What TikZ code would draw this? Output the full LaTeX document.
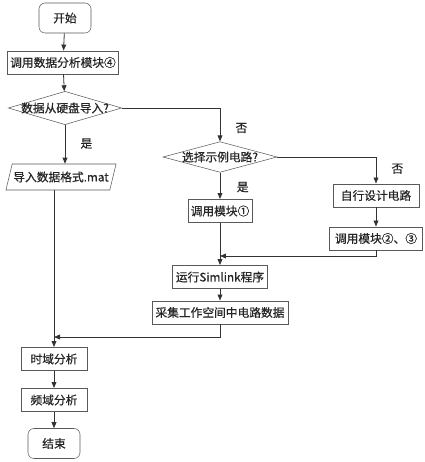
\documentclass[tikz,border=0pt]{standalone}
\usepackage{fontspec}
\setmainfont{Noto Sans CJK SC}[FakeBold=0.6]
\usepackage{xcolor}
\usetikzlibrary{arrows.meta,positioning,shapes.geometric,calc}

\begin{document}
\begin{tikzpicture}[x=0.75pt, y=-0.75pt,
        every node/.style={font=\fontsize{8.8}{10}\selectfont, text=black!85},
        term/.style={draw=black!65, rounded corners=4.5pt, align=center,
                     minimum width=39pt, minimum height=22.5pt, inner sep=1pt},
        proc/.style={draw=black!65, align=center,
                     minimum height=17.5pt, inner sep=2pt},
        dec/.style={diamond, draw=black!65, inner sep=0pt},
        io/.style={trapezium, trapezium left angle=65, trapezium right angle=115,
                   trapezium stretches=true, draw=black!65, align=center,
                   minimum width=83pt, minimum height=19.5pt, inner sep=1pt},
        arrow/.style={-{Triangle[length=4.5pt, width=3.6pt]}, black!80, semithick},
        yesno/.style={font=\fontsize{8.8}{10}\selectfont}
    ]
        \useasboundingbox (0,0) rectangle (425,462);

        % left column
        \node[term] (start) at (65,18) {开始};
        \node[proc, minimum width=82pt] (m4) at (63,62.5) {调用数据分析模块④};
        \node[dec, minimum width=85pt, minimum height=25pt,
              label=center:{数据从硬盘导入?}] (dec1) at (65,108) {};
        \node[io] (imp) at (61,177) {导入数据格式.mat};

        % middle column
        \node[dec, minimum width=85.5pt, minimum height=23pt,
              label=center:{选择示例电路?}] (dec2) at (220,157) {};
        \node[proc, minimum width=47pt] (m1) at (220,211) {调用模块①};
        \node[proc, minimum width=71pt] (run) at (220,277) {运行Simlink程序};
        \node[proc, minimum width=102pt] (col) at (220,312.5) {采集工作空间中电路数据};

        % right column
        \node[proc, minimum width=64.5pt] (own) at (376,195.5) {自行设计电路};
        \node[proc, minimum width=70pt] (m23) at (376,238.5) {调用模块②、③};

        % analysis
        \node[proc, minimum width=49.5pt] (tda) at (54,359) {时域分析};
        \node[proc, minimum width=49.5pt] (fda) at (54,400) {频域分析};
        \node[term] (end) at (54,443.5) {结束};

        \coordinate (j1) at (220,256);
        \coordinate (j2) at (54,337);

        \draw[arrow] (start) -- (m4);
        \draw[arrow] (m4) -- (dec1);
        \draw[arrow] (dec1.south) -- (dec1.south |- imp.north)
            node[yesno, pos=0.48, right=8pt] {是};
        \draw[arrow] (dec1.east) -| (dec2.north)
            node[yesno, pos=0.8, right=8pt] {否};
        \draw[arrow] (dec2.south) -- (m1.north)
            node[yesno, pos=0.55, right=9pt] {是};
        \draw[arrow] (dec2.east) -| (own.north)
            node[yesno, pos=0.72, right=8pt] {否};
        \draw[arrow] (own) -- (m23);
        \draw[arrow] (m23.south) |- (j1);
        \draw[arrow] (m1) -- (run);
        \draw[arrow] (run) -- (col);
        \draw[arrow] (col.south) |- (j2);
        \draw[arrow] (tda.north |- imp.south) -- (tda.north);
        \draw[arrow] (tda) -- (fda);
        \draw[arrow] (fda) -- (end);
    \end{tikzpicture}
\end{document}
